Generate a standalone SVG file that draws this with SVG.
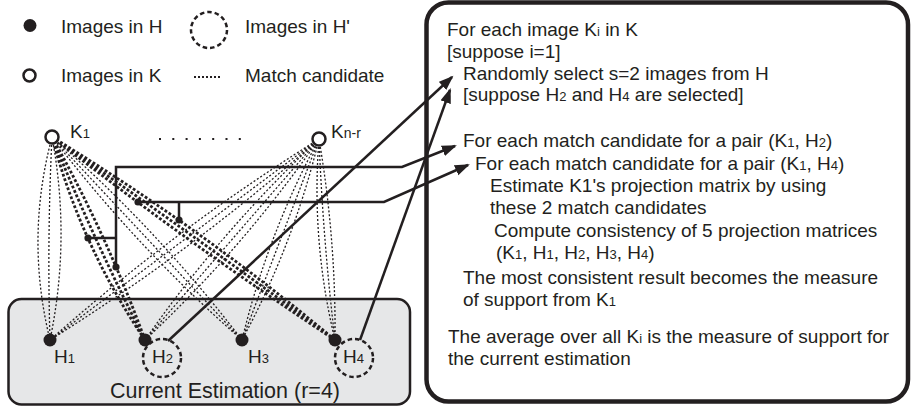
<svg xmlns="http://www.w3.org/2000/svg" width="915" height="407" viewBox="0 0 915 407">
<defs>
<style>
text{font-family:"Liberation Sans",Arial,sans-serif;fill:#231f20;font-size:19px}
.s{font-size:13px}
.thin{fill:none;stroke:#231f20;stroke-width:1.3;stroke-dasharray:2 2}
.thick{fill:none;stroke:#231f20;stroke-width:2.8;stroke-dasharray:2.8 2}
.solid{fill:none;stroke:#231f20;stroke-width:2.5}
.dot{fill:#231f20}
.open{fill:#fff;stroke:#231f20;stroke-width:2.5}
.dash{fill:none;stroke:#231f20;stroke-width:2.5;stroke-dasharray:4.5 3}
</style>
<marker id="ah" markerUnits="userSpaceOnUse" markerWidth="16" markerHeight="12" refX="13" refY="5.5" orient="auto"><path d="M0,0 L15,5.5 L0,11 z" fill="#231f20"/></marker>
</defs>
<rect width="915" height="407" fill="#fff"/>
<g id="legend">
<circle class="dot" cx="30" cy="25.5" r="6.5"/>
<text x="61" y="33">Images in H</text>
<circle class="dash" cx="209" cy="30" r="18"/>
<text x="245" y="33">Images in H'</text>
<circle class="open" cx="29.5" cy="75.5" r="6"/>
<text x="61" y="82">Images in K</text>
<line x1="194" y1="77" x2="221" y2="77" stroke="#231f20" stroke-width="2" stroke-dasharray="2 2"/>
<text x="245" y="82">Match candidate</text>
</g>
<g id="estimation">
<rect x="8.5" y="299" width="401.5" height="105.5" rx="13" fill="#e6e7e8" stroke="#231f20" stroke-width="2.5"/>
<text x="110" y="398" style="font-size:21.5px">Current Estimation (r=4)</text>
</g>
<g id="connectors">
<path class="thin" d="M52,137 Q25,238.2 50,340 M52,137 Q47,238.5 50,340 M52,137 Q71,238.7 50,340"/>
<path class="thin" d="M52,137 Q136.8,248.1 242,340 M52,137 Q147,238.5 242,340 M52,137 Q157.2,228.9 242,340"/>
<path class="thin" d="M319,139 Q176.1,228.3 50,340 M319,139 Q184.5,239.5 50,340 M319,139 Q192.9,250.7 50,340"/>
<path class="thin" d="M319,139 Q221.4,230.3 145,340 M319,139 Q232,239.5 145,340 M319,139 Q242.6,248.7 145,340"/>
<path class="thin" d="M319,139 Q267.4,234.5 242,340 M319,139 Q280.5,239.5 242,340 M319,139 Q293.6,244.5 242,340"/>
<path class="thin" d="M319,139 Q311,240.8 335,340 M319,139 Q323,239.8 335,340 M319,139 Q336,238.8 335,340"/>
<path class="thick" d="M52,137 Q81.2,246.4 145,340 M52,137 Q94,240.6 145,340 M52,137 Q106.7,234.7 145,340"/>
<path class="thick" d="M52,137 Q189.4,244.2 335,340 M52,137 Q195.2,236.1 335,340 M52,137 Q201.1,227.9 335,340"/>
<line x1="159" y1="139" x2="252" y2="139" stroke="#231f20" stroke-width="2" stroke-dasharray="2 11.3"/>
<path class="solid" d="M116,267 V167 H402 L455,146" marker-end="url(#ah)"/>
<path class="solid" d="M88,238 H116"/>
<path class="solid" d="M138,202 H384 L468,165" marker-end="url(#ah)"/>
<path class="solid" d="M179,202 V220"/>
<circle class="dot" cx="116" cy="267" r="3.6"/>
<circle class="dot" cx="88" cy="238" r="3.6"/>
<circle class="dot" cx="138" cy="202" r="3.6"/>
<circle class="dot" cx="179" cy="220" r="3.6"/>
<path class="solid" d="M168,341 L452,77" marker-end="url(#ah)"/>
<path class="solid" d="M360,340 L450,90" marker-end="url(#ah)"/>
</g>
<g id="K1">
<circle class="open" cx="52" cy="137" r="6.5"/>
<text x="70" y="138">K<tspan class="s">1</tspan></text>
</g>
<g id="Kn-r">
<circle class="open" cx="319" cy="139" r="6.5"/>
<text x="331" y="138">K<tspan class="s" style="font-size:14px">n-r</tspan></text>
</g>
<g id="H1">
<circle class="dot" cx="50" cy="340" r="6.5"/>
<text x="54" y="363">H<tspan class="s">1</tspan></text>
</g>
<g id="H2">
<circle class="dot" cx="145" cy="340" r="6.5"/>
<circle class="dash" cx="162" cy="358" r="19"/>
<text x="152" y="363">H<tspan class="s">2</tspan></text>
</g>
<g id="H3">
<circle class="dot" cx="242" cy="340" r="6.5"/>
<text x="248" y="363">H<tspan class="s">3</tspan></text>
</g>
<g id="H4">
<circle class="dot" cx="335" cy="340" r="6.5"/>
<circle class="dash" cx="354" cy="358" r="19"/>
<text x="343" y="363">H<tspan class="s">4</tspan></text>
</g>
<g id="algorithm">
<rect x="426.5" y="2.5" width="481.5" height="399" rx="22" fill="none" stroke="#231f20" stroke-width="4.5"/>
<text x="447" y="36">For each image K<tspan class="s">i</tspan> in K</text>
<text x="447" y="58">[suppose i=1]</text>
<text x="463" y="80">Randomly select s=2 images from H</text>
<text x="463" y="101">[suppose H<tspan class="s">2</tspan> and H<tspan class="s">4</tspan> are selected]</text>
<text x="463" y="147">For each match candidate for a pair (K<tspan class="s">1</tspan>, H<tspan class="s">2</tspan>)</text>
<text x="475" y="170">For each match candidate for a pair (K<tspan class="s">1</tspan>, H<tspan class="s">4</tspan>)</text>
<text x="490" y="192">Estimate K1's projection matrix by using</text>
<text x="490" y="214">these 2 match candidates</text>
<text x="494" y="237">Compute consistency of 5 projection matrices</text>
<text x="496" y="259">(K<tspan class="s">1</tspan>, H<tspan class="s">1</tspan>, H<tspan class="s">2</tspan>, H<tspan class="s">3</tspan>, H<tspan class="s">4</tspan>)</text>
<text x="463" y="284">The most consistent result becomes the measure</text>
<text x="463" y="306">of support from K<tspan class="s">1</tspan></text>
<text x="448" y="343">The average over all K<tspan class="s">i</tspan> is the measure of support for</text>
<text x="448" y="365">the current estimation</text>
</g>
</svg>
